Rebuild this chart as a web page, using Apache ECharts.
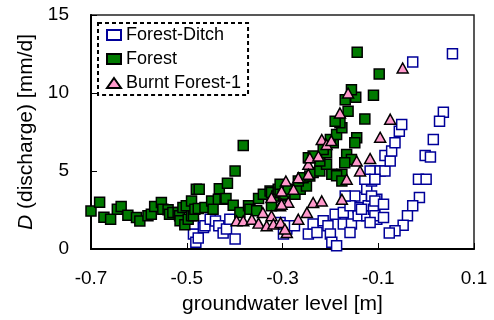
<!DOCTYPE html>
<html>
<head>
<meta charset="utf-8">
<script src="https://cdn.jsdelivr.net/npm/echarts@6/dist/echarts.min.js"></script>
<style>
  html, body { margin: 0; padding: 0; background: #fff; }
  #chart { width: 494px; height: 320px; }
</style>
</head>
<body>
<div id="chart"></div>
<script>
// Valores: [nivel freático (m), descarga (mm/d)]
const seriesNames = ['Forest-Ditch', 'Forest', 'Burnt Forest-1'];

const forestDitch = [
  [-0.486, 0.96], [-0.481, 0.43], [-0.476, 0.70], [-0.486, 1.60], [-0.465, 1.38], [-0.462, 1.49],
  [-0.451, 1.91], [-0.440, 1.80], [-0.433, 1.49], [-0.424, 1.02], [-0.417, 1.28], [-0.399, 0.64],
  [-0.410, 1.91], [-0.305, 1.70], [-0.298, 0.96], [-0.291, 1.28], [-0.291, 1.49], [-0.275, 1.49],
  [-0.246, 0.96], [-0.236, 1.60], [-0.228, 1.06], [-0.215, 1.81], [-0.205, 1.49], [-0.200, 0.96],
  [-0.197, 0.43], [-0.187, 0.21], [-0.190, 2.23], [-0.173, 2.34], [-0.173, 1.60], [-0.156, 1.60],
  [-0.159, 1.06], [-0.142, 2.66], [-0.135, 3.30], [-0.124, 3.83], [-0.114, 4.36], [-0.107, 5.00],
  [-0.117, 5.00], [-0.128, 4.47], [-0.149, 3.40], [-0.142, 2.13], [-0.124, 2.13], [-0.121, 2.77],
  [-0.135, 2.55], [-0.103, 3.19], [-0.110, 2.55], [-0.103, 1.91], [-0.159, 2.77], [-0.169, 3.40],
  [-0.096, 5.00], [-0.086, 5.00], [-0.107, 4.47], [-0.114, 3.40], [-0.107, 3.08], [-0.089, 2.87],
  [-0.107, 2.13], [-0.089, 2.02], [-0.117, 1.70], [-0.086, 6.00], [-0.075, 5.64], [-0.072, 6.28],
  [-0.065, 6.81], [-0.056, 7.55], [-0.051, 7.98], [-0.028, 11.98], [0.055, 12.51], [0.036, 8.77],
  [0.028, 8.19], [0.015, 7.02], [-0.002, 6.00], [0.009, 5.89], [-0.016, 4.47], [0.000, 4.47],
  [-0.014, 3.30], [-0.028, 2.77], [-0.039, 2.13], [-0.048, 1.53], [-0.065, 1.17], [-0.077, 1.02]
];

const forest = [
  [-0.700, 2.43], [-0.682, 3.00], [-0.673, 2.04], [-0.659, 1.90], [-0.645, 2.55], [-0.637, 2.72],
  [-0.623, 2.17], [-0.605, 2.02], [-0.598, 1.80], [-0.581, 2.13], [-0.574, 2.23], [-0.567, 2.72],
  [-0.553, 2.98], [-0.550, 2.55], [-0.539, 2.51], [-0.536, 2.23], [-0.529, 2.34], [-0.518, 2.34],
  [-0.515, 2.13], [-0.514, 1.81], [-0.508, 2.66], [-0.504, 1.55], [-0.501, 2.77], [-0.497, 1.91],
  [-0.490, 2.13], [-0.490, 3.08], [-0.486, 2.13], [-0.483, 2.55], [-0.480, 3.83], [-0.476, 2.60],
  [-0.474, 3.83], [-0.462, 2.66], [-0.448, 3.08], [-0.445, 2.55], [-0.434, 3.19], [-0.432, 3.87],
  [-0.420, 3.19], [-0.418, 3.23], [-0.415, 4.21], [-0.403, 2.81], [-0.399, 5.00], [-0.389, 2.34],
  [-0.382, 6.64], [-0.371, 2.77], [-0.368, 2.55], [-0.354, 2.45], [-0.350, 3.23], [-0.340, 3.51],
  [-0.326, 3.72], [-0.323, 2.77], [-0.323, 3.62], [-0.312, 3.40], [-0.309, 3.83], [-0.305, 3.62],
  [-0.298, 3.40], [-0.291, 3.62], [-0.305, 4.15], [-0.295, 3.51], [-0.288, 3.83], [-0.274, 3.51],
  [-0.263, 3.83], [-0.250, 4.04], [-0.267, 4.36], [-0.257, 4.57], [-0.243, 4.68], [-0.236, 4.90],
  [-0.222, 5.00], [-0.197, 4.79], [-0.176, 4.79], [-0.187, 4.70], [-0.176, 4.36], [-0.208, 5.43],
  [-0.222, 5.64], [-0.246, 5.85], [-0.236, 5.96], [-0.208, 6.17], [-0.215, 6.38], [-0.194, 6.81],
  [-0.200, 7.02], [-0.187, 7.34], [-0.176, 7.77], [-0.180, 8.09], [-0.163, 8.83], [-0.128, 8.34],
  [-0.145, 7.13], [-0.149, 6.81], [-0.166, 6.06], [-0.156, 5.74], [-0.170, 5.53], [-0.190, 8.19],
  [-0.169, 9.57], [-0.147, 9.72], [-0.156, 10.21], [-0.110, 9.85], [-0.098, 11.21], [-0.144, 12.62]
];

const burntForest = [
  [-0.396, 1.81], [-0.382, 1.81], [-0.364, 1.91], [-0.350, 1.66], [-0.341, 2.34], [-0.333, 1.49],
  [-0.323, 3.30], [-0.323, 2.13], [-0.319, 1.60], [-0.305, 2.77], [-0.304, 1.70], [-0.293, 4.36],
  [-0.291, 1.06], [-0.288, 3.00], [-0.302, 3.72], [-0.302, 2.87], [-0.277, 3.83], [-0.267, 4.57],
  [-0.267, 1.91], [-0.249, 2.34], [-0.246, 5.43], [-0.246, 4.79], [-0.243, 5.85], [-0.236, 2.98],
  [-0.225, 5.96], [-0.218, 3.08], [-0.218, 7.02], [-0.208, 6.70], [-0.198, 6.95], [-0.180, 8.72],
  [-0.176, 3.19], [-0.166, 4.47], [-0.163, 10.00], [-0.145, 5.64], [-0.138, 5.00], [-0.117, 5.80],
  [-0.096, 7.16], [-0.075, 8.32], [-0.049, 11.60], [-0.295, 1.28]
];

const xTicks = [-0.7, -0.5, -0.3, -0.1, 0.1];
const yTicks = [0, 5, 10, 15];

const font = "'Liberation Sans', Arial, sans-serif";

const chart = echarts.init(document.getElementById('chart'));
chart.setOption({
  animation: false,
  textStyle: { fontFamily: font },
  grid: {
    left: 91, right: 20, top: 15, bottom: 70,
    show: true, borderColor: '#222', borderWidth: 1.5
  },
  legend: {
    orient: 'vertical',
    left: 98, top: 23,
    padding: [3, 7, 3, 8],
    itemGap: 6,
    itemWidth: 14, itemHeight: 10,
    symbolKeepAspect: true,
    borderColor: '#000', borderWidth: 2, borderType: [4, 3],
    backgroundColor: '#fff',
    textStyle: { fontSize: 18, color: '#000', fontFamily: font },
    data: seriesNames
  },
  xAxis: {
    type: 'value',
    min: -0.7, max: 0.1,
    name: 'groundwater level [m]',
    nameLocation: 'middle',
    nameGap: 45,
    nameTextStyle: { fontSize: 21, color: '#000' },
    axisLine: { onZero: false, lineStyle: { color: '#000', width: 2 } },
    axisTick: { inside: true, length: 6, customValues: xTicks, lineStyle: { color: '#000', width: 1 } },
    axisLabel: { customValues: xTicks, fontSize: 19, color: '#000', margin: 20,
      formatter: v => v.toFixed(1) },
    splitLine: { show: false }
  },
  yAxis: {
    type: 'value',
    min: 0, max: 15, interval: 5,
    name: '{i|D} (discharge) [mm/d]',
    nameLocation: 'middle',
    nameGap: 51,
    nameTextStyle: { fontSize: 21, color: '#000', rich: { i: { fontStyle: 'italic', fontSize: 21, color: '#000' } } },
    axisLine: { onZero: false, lineStyle: { color: '#000', width: 2 } },
    axisTick: { inside: true, length: 6, lineStyle: { color: '#000', width: 1 } },
    axisLabel: { fontSize: 19, color: '#000', margin: 22,
      customValues: yTicks },
    splitLine: { show: false }
  },
  series: [
    {
      name: seriesNames[0], type: 'scatter', symbol: 'rect', symbolSize: 10,
      itemStyle: { color: '#fff', borderColor: '#000099', borderWidth: 1.5, opacity: 1 },
      data: forestDitch
    },
    {
      name: seriesNames[1], type: 'scatter', symbol: 'rect', symbolSize: 10,
      itemStyle: { color: '#007a00', borderColor: '#000', borderWidth: 1.5, opacity: 1 },
      data: forest
    },
    {
      name: seriesNames[2], type: 'scatter', symbol: 'triangle', symbolSize: [11, 10],
      itemStyle: { color: '#ff99cc', borderColor: '#000', borderWidth: 1.5, opacity: 1 },
      data: burntForest
    }
  ]
});
</script>
</body>
</html>
